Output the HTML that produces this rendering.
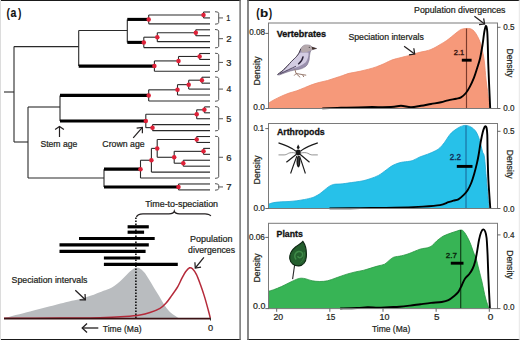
<!DOCTYPE html>
<html><head><meta charset="utf-8"><style>
html,body{margin:0;padding:0;background:#fff;width:520px;height:340px;overflow:hidden}
svg{display:block}
text{font-family:"Liberation Sans",sans-serif}
</style></head><body>
<svg width="520" height="340" viewBox="0 0 520 340">
<line x1="0" y1="0.5" x2="240.5" y2="0.5" stroke="#1a1a1a" stroke-width="1.2"/>
<line x1="0" y1="339.5" x2="240.5" y2="339.5" stroke="#1a1a1a" stroke-width="1.2"/>
<line x1="0.5" y1="0" x2="0.5" y2="340" stroke="#dcdcdc" stroke-width="1"/>
<line x1="240.1" y1="0" x2="240.1" y2="340" stroke="#6a6a6a" stroke-width="1.4"/>
<line x1="247.5" y1="0.5" x2="520" y2="0.5" stroke="#1a1a1a" stroke-width="1.2"/>
<line x1="247.5" y1="339.5" x2="520" y2="339.5" stroke="#1a1a1a" stroke-width="1.2"/>
<line x1="248" y1="0" x2="248" y2="340" stroke="#6a6a6a" stroke-width="1.6"/>
<line x1="519.3" y1="0" x2="519.3" y2="340" stroke="#e6e6e6" stroke-width="1"/>
<line x1="203.5" y1="12" x2="203.5" y2="17.93" stroke="#2a2a2a" stroke-width="1.1"/>
<line x1="203.5" y1="12" x2="210" y2="12" stroke="#2a2a2a" stroke-width="1.1"/>
<line x1="203.5" y1="17.93" x2="210" y2="17.93" stroke="#2a2a2a" stroke-width="1.1"/>
<line x1="148.7" y1="14.96" x2="148.7" y2="23.86" stroke="#2a2a2a" stroke-width="1.1"/>
<line x1="148.7" y1="14.96" x2="203.5" y2="14.96" stroke="#2a2a2a" stroke-width="1.1"/>
<line x1="148.7" y1="23.86" x2="210" y2="23.86" stroke="#2a2a2a" stroke-width="1.1"/>
<line x1="195.8" y1="29.79" x2="195.8" y2="35.72" stroke="#2a2a2a" stroke-width="1.1"/>
<line x1="195.8" y1="29.79" x2="210" y2="29.79" stroke="#2a2a2a" stroke-width="1.1"/>
<line x1="195.8" y1="35.72" x2="210" y2="35.72" stroke="#2a2a2a" stroke-width="1.1"/>
<line x1="157.3" y1="32.75" x2="157.3" y2="41.65" stroke="#2a2a2a" stroke-width="1.1"/>
<line x1="157.3" y1="32.75" x2="195.8" y2="32.75" stroke="#2a2a2a" stroke-width="1.1"/>
<line x1="157.3" y1="41.65" x2="210" y2="41.65" stroke="#2a2a2a" stroke-width="1.1"/>
<line x1="143.8" y1="37.2" x2="143.8" y2="47.58" stroke="#2a2a2a" stroke-width="1.1"/>
<line x1="143.8" y1="37.2" x2="157.3" y2="37.2" stroke="#2a2a2a" stroke-width="1.1"/>
<line x1="143.8" y1="47.58" x2="210" y2="47.58" stroke="#2a2a2a" stroke-width="1.1"/>
<line x1="127.3" y1="19.41" x2="127.3" y2="42.39" stroke="#2a2a2a" stroke-width="1.1"/>
<line x1="127.3" y1="19.41" x2="148.7" y2="19.41" stroke="#000" stroke-width="3.1"/>
<line x1="127.3" y1="42.39" x2="143.8" y2="42.39" stroke="#000" stroke-width="3.1"/>
<line x1="199.6" y1="53.51" x2="199.6" y2="59.44" stroke="#2a2a2a" stroke-width="1.1"/>
<line x1="199.6" y1="53.51" x2="210" y2="53.51" stroke="#2a2a2a" stroke-width="1.1"/>
<line x1="199.6" y1="59.44" x2="210" y2="59.44" stroke="#2a2a2a" stroke-width="1.1"/>
<line x1="178.5" y1="56.47" x2="178.5" y2="65.37" stroke="#2a2a2a" stroke-width="1.1"/>
<line x1="178.5" y1="56.47" x2="199.6" y2="56.47" stroke="#2a2a2a" stroke-width="1.1"/>
<line x1="178.5" y1="65.37" x2="210" y2="65.37" stroke="#2a2a2a" stroke-width="1.1"/>
<line x1="154.4" y1="60.92" x2="154.4" y2="71.3" stroke="#2a2a2a" stroke-width="1.1"/>
<line x1="154.4" y1="60.92" x2="178.5" y2="60.92" stroke="#2a2a2a" stroke-width="1.1"/>
<line x1="154.4" y1="71.3" x2="210" y2="71.3" stroke="#2a2a2a" stroke-width="1.1"/>
<line x1="78.7" y1="30.5" x2="78.7" y2="66.11" stroke="#2a2a2a" stroke-width="1.1"/>
<line x1="78.7" y1="30.5" x2="127.3" y2="30.5" stroke="#2a2a2a" stroke-width="1.1"/>
<line x1="78.7" y1="66.11" x2="154.4" y2="66.11" stroke="#000" stroke-width="3.1"/>
<line x1="201.9" y1="77.23" x2="201.9" y2="83.16" stroke="#2a2a2a" stroke-width="1.1"/>
<line x1="201.9" y1="77.23" x2="210" y2="77.23" stroke="#2a2a2a" stroke-width="1.1"/>
<line x1="201.9" y1="83.16" x2="210" y2="83.16" stroke="#2a2a2a" stroke-width="1.1"/>
<line x1="188.7" y1="80.19" x2="188.7" y2="89.09" stroke="#2a2a2a" stroke-width="1.1"/>
<line x1="188.7" y1="80.19" x2="201.9" y2="80.19" stroke="#2a2a2a" stroke-width="1.1"/>
<line x1="188.7" y1="89.09" x2="210" y2="89.09" stroke="#2a2a2a" stroke-width="1.1"/>
<line x1="177.5" y1="84.64" x2="177.5" y2="95.02" stroke="#2a2a2a" stroke-width="1.1"/>
<line x1="177.5" y1="84.64" x2="188.7" y2="84.64" stroke="#2a2a2a" stroke-width="1.1"/>
<line x1="177.5" y1="95.02" x2="210" y2="95.02" stroke="#2a2a2a" stroke-width="1.1"/>
<line x1="148.7" y1="89.83" x2="148.7" y2="100.95" stroke="#2a2a2a" stroke-width="1.1"/>
<line x1="148.7" y1="89.83" x2="177.5" y2="89.83" stroke="#2a2a2a" stroke-width="1.1"/>
<line x1="148.7" y1="100.95" x2="210" y2="100.95" stroke="#2a2a2a" stroke-width="1.1"/>
<line x1="204.4" y1="106.88" x2="204.4" y2="112.81" stroke="#2a2a2a" stroke-width="1.1"/>
<line x1="204.4" y1="106.88" x2="210" y2="106.88" stroke="#2a2a2a" stroke-width="1.1"/>
<line x1="204.4" y1="112.81" x2="210" y2="112.81" stroke="#2a2a2a" stroke-width="1.1"/>
<line x1="196.7" y1="109.84" x2="196.7" y2="118.74" stroke="#2a2a2a" stroke-width="1.1"/>
<line x1="196.7" y1="109.84" x2="204.4" y2="109.84" stroke="#2a2a2a" stroke-width="1.1"/>
<line x1="196.7" y1="118.74" x2="210" y2="118.74" stroke="#2a2a2a" stroke-width="1.1"/>
<line x1="152.5" y1="124.67" x2="152.5" y2="130.6" stroke="#2a2a2a" stroke-width="1.1"/>
<line x1="152.5" y1="124.67" x2="210" y2="124.67" stroke="#2a2a2a" stroke-width="1.1"/>
<line x1="152.5" y1="130.6" x2="210" y2="130.6" stroke="#2a2a2a" stroke-width="1.1"/>
<line x1="145.8" y1="114.29" x2="145.8" y2="127.63" stroke="#2a2a2a" stroke-width="1.1"/>
<line x1="145.8" y1="114.29" x2="196.7" y2="114.29" stroke="#2a2a2a" stroke-width="1.1"/>
<line x1="145.8" y1="127.63" x2="152.5" y2="127.63" stroke="#2a2a2a" stroke-width="1.1"/>
<line x1="60" y1="95.39" x2="60" y2="120.96" stroke="#2a2a2a" stroke-width="1.1"/>
<line x1="60" y1="95.39" x2="148.7" y2="95.39" stroke="#000" stroke-width="3.1"/>
<line x1="60" y1="120.96" x2="145.8" y2="120.96" stroke="#000" stroke-width="3.1"/>
<line x1="196.7" y1="136.53" x2="196.7" y2="142.46" stroke="#2a2a2a" stroke-width="1.1"/>
<line x1="196.7" y1="136.53" x2="210" y2="136.53" stroke="#2a2a2a" stroke-width="1.1"/>
<line x1="196.7" y1="142.46" x2="210" y2="142.46" stroke="#2a2a2a" stroke-width="1.1"/>
<line x1="203.5" y1="148.39" x2="203.5" y2="154.32" stroke="#2a2a2a" stroke-width="1.1"/>
<line x1="203.5" y1="148.39" x2="210" y2="148.39" stroke="#2a2a2a" stroke-width="1.1"/>
<line x1="203.5" y1="154.32" x2="210" y2="154.32" stroke="#2a2a2a" stroke-width="1.1"/>
<line x1="183.3" y1="160.25" x2="183.3" y2="166.18" stroke="#2a2a2a" stroke-width="1.1"/>
<line x1="183.3" y1="160.25" x2="210" y2="160.25" stroke="#2a2a2a" stroke-width="1.1"/>
<line x1="183.3" y1="166.18" x2="210" y2="166.18" stroke="#2a2a2a" stroke-width="1.1"/>
<line x1="174.2" y1="151.35" x2="174.2" y2="163.22" stroke="#2a2a2a" stroke-width="1.1"/>
<line x1="174.2" y1="151.35" x2="203.5" y2="151.35" stroke="#2a2a2a" stroke-width="1.1"/>
<line x1="174.2" y1="163.22" x2="183.3" y2="163.22" stroke="#2a2a2a" stroke-width="1.1"/>
<line x1="157.2" y1="139.5" x2="157.2" y2="157.28" stroke="#2a2a2a" stroke-width="1.1"/>
<line x1="157.2" y1="139.5" x2="196.7" y2="139.5" stroke="#2a2a2a" stroke-width="1.1"/>
<line x1="157.2" y1="157.28" x2="174.2" y2="157.28" stroke="#2a2a2a" stroke-width="1.1"/>
<line x1="151.4" y1="148.39" x2="151.4" y2="172.11" stroke="#2a2a2a" stroke-width="1.1"/>
<line x1="151.4" y1="148.39" x2="157.2" y2="148.39" stroke="#2a2a2a" stroke-width="1.1"/>
<line x1="151.4" y1="172.11" x2="210" y2="172.11" stroke="#2a2a2a" stroke-width="1.1"/>
<line x1="140.5" y1="160.25" x2="140.5" y2="178.04" stroke="#2a2a2a" stroke-width="1.1"/>
<line x1="140.5" y1="160.25" x2="151.4" y2="160.25" stroke="#2a2a2a" stroke-width="1.1"/>
<line x1="140.5" y1="178.04" x2="210" y2="178.04" stroke="#2a2a2a" stroke-width="1.1"/>
<line x1="178.5" y1="183.97" x2="178.5" y2="189.9" stroke="#2a2a2a" stroke-width="1.1"/>
<line x1="178.5" y1="183.97" x2="210" y2="183.97" stroke="#2a2a2a" stroke-width="1.1"/>
<line x1="178.5" y1="189.9" x2="210" y2="189.9" stroke="#2a2a2a" stroke-width="1.1"/>
<line x1="104" y1="169.14" x2="104" y2="186.94" stroke="#2a2a2a" stroke-width="1.1"/>
<line x1="104" y1="169.14" x2="140.5" y2="169.14" stroke="#000" stroke-width="3.1"/>
<line x1="104" y1="186.94" x2="178.5" y2="186.94" stroke="#000" stroke-width="3.1"/>
<line x1="28" y1="107" x2="28" y2="178.04" stroke="#2a2a2a" stroke-width="1.1"/>
<line x1="28" y1="107" x2="60" y2="107" stroke="#2a2a2a" stroke-width="1.1"/>
<line x1="28" y1="178.04" x2="104" y2="178.04" stroke="#2a2a2a" stroke-width="1.1"/>
<line x1="14" y1="46.6" x2="14" y2="142" stroke="#2a2a2a" stroke-width="1.1"/>
<line x1="14" y1="46.6" x2="78.7" y2="46.6" stroke="#2a2a2a" stroke-width="1.1"/>
<line x1="14" y1="142" x2="28" y2="142" stroke="#2a2a2a" stroke-width="1.1"/>
<line x1="4" y1="92" x2="14" y2="92" stroke="#2a2a2a" stroke-width="1.1"/>
<circle cx="203.5" cy="14.96" r="2.25" fill="#df2138"/>
<circle cx="148.7" cy="19.41" r="2.25" fill="#df2138"/>
<circle cx="195.8" cy="32.75" r="2.25" fill="#df2138"/>
<circle cx="157.3" cy="37.2" r="2.25" fill="#df2138"/>
<circle cx="143.8" cy="42.39" r="2.25" fill="#df2138"/>
<circle cx="199.6" cy="56.47" r="2.25" fill="#df2138"/>
<circle cx="178.5" cy="60.92" r="2.25" fill="#df2138"/>
<circle cx="154.4" cy="66.11" r="2.25" fill="#df2138"/>
<circle cx="201.9" cy="80.19" r="2.25" fill="#df2138"/>
<circle cx="188.7" cy="84.64" r="2.25" fill="#df2138"/>
<circle cx="177.5" cy="89.83" r="2.25" fill="#df2138"/>
<circle cx="148.7" cy="95.39" r="2.25" fill="#df2138"/>
<circle cx="204.4" cy="109.84" r="2.25" fill="#df2138"/>
<circle cx="196.7" cy="114.29" r="2.25" fill="#df2138"/>
<circle cx="152.5" cy="127.63" r="2.25" fill="#df2138"/>
<circle cx="145.8" cy="120.96" r="2.25" fill="#df2138"/>
<circle cx="196.7" cy="139.5" r="2.25" fill="#df2138"/>
<circle cx="203.5" cy="151.35" r="2.25" fill="#df2138"/>
<circle cx="183.3" cy="163.22" r="2.25" fill="#df2138"/>
<circle cx="174.2" cy="157.28" r="2.25" fill="#df2138"/>
<circle cx="157.2" cy="148.39" r="2.25" fill="#df2138"/>
<circle cx="151.4" cy="160.25" r="2.25" fill="#df2138"/>
<circle cx="140.5" cy="169.14" r="2.25" fill="#df2138"/>
<circle cx="178.5" cy="186.94" r="2.25" fill="#df2138"/>
<path d="M215,11.7 Q218.7,11.7 218.7,13.2 L218.7,22.66 Q218.7,24.16 215,24.16" fill="none" stroke="#555" stroke-width="1"/>
<line x1="218.7" y1="17.93" x2="223" y2="17.93" stroke="#555" stroke-width="1"/>
<text x="226.13" y="21.33" font-size="9.74" textLength="4.13" lengthAdjust="spacingAndGlyphs" fill="#231f20" stroke="#231f20" stroke-width="0.22">1</text>
<path d="M215,29.49 Q218.7,29.49 218.7,30.99 L218.7,46.38 Q218.7,47.88 215,47.88" fill="none" stroke="#555" stroke-width="1"/>
<line x1="218.7" y1="38.68" x2="223" y2="38.68" stroke="#555" stroke-width="1"/>
<text x="226.21" y="42.08" font-size="9.6" textLength="5.37" lengthAdjust="spacingAndGlyphs" fill="#231f20" stroke="#231f20" stroke-width="0.22">2</text>
<path d="M215,53.21 Q218.7,53.21 218.7,54.71 L218.7,70.1 Q218.7,71.6 215,71.6" fill="none" stroke="#555" stroke-width="1"/>
<line x1="218.7" y1="62.41" x2="223" y2="62.41" stroke="#555" stroke-width="1"/>
<text x="226.35" y="65.81" font-size="9.6" textLength="5.16" lengthAdjust="spacingAndGlyphs" fill="#231f20" stroke="#231f20" stroke-width="0.22">3</text>
<path d="M215,76.93 Q218.7,76.93 218.7,78.43 L218.7,99.75 Q218.7,101.25 215,101.25" fill="none" stroke="#555" stroke-width="1"/>
<line x1="218.7" y1="89.09" x2="223" y2="89.09" stroke="#555" stroke-width="1"/>
<text x="226.5" y="92.49" font-size="9.74" textLength="4.86" lengthAdjust="spacingAndGlyphs" fill="#231f20" stroke="#231f20" stroke-width="0.22">4</text>
<path d="M215,106.58 Q218.7,106.58 218.7,108.08 L218.7,129.4 Q218.7,130.9 215,130.9" fill="none" stroke="#555" stroke-width="1"/>
<line x1="218.7" y1="118.74" x2="223" y2="118.74" stroke="#555" stroke-width="1"/>
<text x="226.33" y="122.14" font-size="9.74" textLength="5.16" lengthAdjust="spacingAndGlyphs" fill="#231f20" stroke="#231f20" stroke-width="0.22">5</text>
<path d="M215,136.23 Q218.7,136.23 218.7,137.73 L218.7,176.84 Q218.7,178.34 215,178.34" fill="none" stroke="#555" stroke-width="1"/>
<line x1="218.7" y1="157.28" x2="223" y2="157.28" stroke="#555" stroke-width="1"/>
<text x="226.22" y="160.69" font-size="9.6" textLength="5.3" lengthAdjust="spacingAndGlyphs" fill="#231f20" stroke="#231f20" stroke-width="0.22">6</text>
<path d="M215,183.67 Q218.7,183.67 218.7,185.17 L218.7,188.7 Q218.7,190.2 215,190.2" fill="none" stroke="#555" stroke-width="1"/>
<line x1="218.7" y1="186.94" x2="223" y2="186.94" stroke="#555" stroke-width="1"/>
<text x="226.2" y="190.34" font-size="9.74" textLength="5.38" lengthAdjust="spacingAndGlyphs" fill="#231f20" stroke="#231f20" stroke-width="0.22">7</text>
<path d="M4,318 C8.33,316.9 22.33,313.35 30,311.4 C37.67,309.45 43.33,308 50,306.3 C56.67,304.6 64.9,302.42 70,301.2 C75.1,299.98 77.07,299.93 80.6,299 C84.13,298.07 87.75,296.82 91.2,295.6 C94.65,294.38 98.73,292.67 101.3,291.7 C103.87,290.73 104.83,290.52 106.6,289.8 C108.37,289.08 110.13,288.42 111.9,287.4 C113.67,286.38 115.43,285.1 117.2,283.7 C118.97,282.3 120.92,280.5 122.5,279 C124.08,277.5 125.47,275.95 126.7,274.7 C127.93,273.45 128.83,272.47 129.9,271.5 C130.97,270.53 132.03,269.52 133.1,268.9 C134.17,268.28 135.23,267.92 136.3,267.8 C137.37,267.68 138.18,267.47 139.5,268.2 C140.82,268.93 142.58,270.28 144.2,272.2 C145.82,274.12 147.55,277.08 149.2,279.7 C150.85,282.32 152.45,285.17 154.1,287.9 C155.75,290.63 157.45,293.35 159.1,296.1 C160.75,298.85 162.35,301.92 164,304.4 C165.65,306.88 167.35,309.22 169,311 C170.65,312.78 172.4,313.97 173.9,315.1 C175.4,316.23 177.15,317.27 178,317.8 C178.85,318.33 178.83,318.22 179,318.3 Z" fill="#b9bcbf" stroke="none" stroke-width="1"/>
<line x1="127.6" y1="226.8" x2="148.8" y2="226.8" stroke="#000" stroke-width="3.2"/>
<line x1="127.6" y1="232.2" x2="144.1" y2="232.2" stroke="#000" stroke-width="3.2"/>
<line x1="79" y1="238.5" x2="154.7" y2="238.5" stroke="#000" stroke-width="3.2"/>
<line x1="59.5" y1="244.9" x2="148.8" y2="244.9" stroke="#000" stroke-width="3.2"/>
<line x1="59.5" y1="251.4" x2="145.6" y2="251.4" stroke="#000" stroke-width="3.2"/>
<line x1="103.9" y1="258" x2="140.2" y2="258" stroke="#000" stroke-width="3.2"/>
<line x1="103.9" y1="264.4" x2="177.8" y2="264.4" stroke="#000" stroke-width="3.2"/>
<line x1="135.9" y1="217.5" x2="135.9" y2="318" stroke="#000" stroke-width="1.5" stroke-dasharray="1.5 1.5"/>
<path d="M136.5,217 Q137.5,213.8 143,213.8 L169,213.8 Q173.5,213.8 174.3,211.2 Q175.1,213.8 179.5,213.8 L205,213.8 Q209.5,213.8 210.8,216" fill="none" stroke="#231f20" stroke-width="1.3"/>
<path d="M4,318.2 C13.33,318.18 44,318.18 60,318.1 C76,318.02 89.17,317.97 100,317.7 C110.83,317.43 118.33,316.95 125,316.5 C131.67,316.05 135.83,315.67 140,315 C144.17,314.33 146.67,313.62 150,312.5 C153.33,311.38 157.35,309.83 160,308.3 C162.65,306.77 163.93,305.45 165.9,303.3 C167.87,301.15 169.82,298.18 171.8,295.4 C173.78,292.62 176.15,289.38 177.8,286.6 C179.45,283.82 180.4,281.17 181.7,278.7 C183,276.23 184.28,273.62 185.6,271.8 C186.92,269.98 188.45,268.3 189.6,267.8 C190.75,267.3 191.35,267.65 192.5,268.8 C193.65,269.95 195.18,272.07 196.5,274.7 C197.82,277.33 199.08,280.98 200.4,284.6 C201.72,288.22 203.08,292.13 204.4,296.4 C205.72,300.67 207.32,306.6 208.3,310.2 C209.28,313.8 209.97,316.7 210.3,318" fill="none" stroke="#b52a3a" stroke-width="1.5"/>
<line x1="4" y1="318.6" x2="210.8" y2="318.6" stroke="#3a1214" stroke-width="1.7"/>
<line x1="210.5" y1="318" x2="210.5" y2="320.5" stroke="#333" stroke-width="1"/>
<text x="6.49" y="17.27" font-size="12.66" textLength="3.42" lengthAdjust="spacingAndGlyphs" fill="#111" font-weight="bold">(</text>
<text x="10.49" y="16.6" font-size="12.45" textLength="5.84" lengthAdjust="spacingAndGlyphs" fill="#111" font-weight="bold" stroke="#111" stroke-width="0.15">a</text>
<text x="17.89" y="17.27" font-size="12.66" textLength="3.42" lengthAdjust="spacingAndGlyphs" fill="#111" font-weight="bold">)</text>
<text x="40.41" y="146.7" font-size="8.88" textLength="36.87" lengthAdjust="spacingAndGlyphs" fill="#231f20" stroke="#231f20" stroke-width="0.22">Stem age</text>
<text x="102.36" y="146.8" font-size="8.59" textLength="42.23" lengthAdjust="spacingAndGlyphs" fill="#231f20" stroke="#231f20" stroke-width="0.22">Crown age</text>
<text x="145.2" y="206.9" font-size="8.42" textLength="72.87" lengthAdjust="spacingAndGlyphs" fill="#231f20" stroke="#231f20" stroke-width="0.22">Time-to-speciation</text>
<text x="190.06" y="242.1" font-size="8.56" textLength="42.52" lengthAdjust="spacingAndGlyphs" fill="#231f20" stroke="#231f20" stroke-width="0.22">Population</text>
<text x="188.13" y="252.7" font-size="8.56" textLength="46.88" lengthAdjust="spacingAndGlyphs" fill="#231f20" stroke="#231f20" stroke-width="0.22">divergences</text>
<text x="11.6" y="282.9" font-size="8.83" textLength="75.91" lengthAdjust="spacingAndGlyphs" fill="#231f20" stroke="#231f20" stroke-width="0.22">Speciation intervals</text>
<text x="102.81" y="331.5" font-size="8.97" textLength="38.72" lengthAdjust="spacingAndGlyphs" fill="#231f20" stroke="#231f20" stroke-width="0.22">Time (Ma)</text>
<text x="207.94" y="331.2" font-size="9.17" textLength="5.12" lengthAdjust="spacingAndGlyphs" fill="#231f20" stroke="#231f20" stroke-width="0.22">0</text>
<line x1="59.5" y1="137" x2="59.5" y2="126.4" stroke="#231f20" stroke-width="1.2"/>
<path d="M63.89,129.54 L59.5,126.4 L55.11,129.54" fill="none" stroke="#231f20" stroke-width="1.2" stroke-linejoin="miter" stroke-linecap="butt"/>
<line x1="133.2" y1="137.8" x2="142.4" y2="127.4" stroke="#231f20" stroke-width="1.2"/>
<path d="M142.38,133.2 L142.4,127.4 L136.65,128.13" fill="none" stroke="#231f20" stroke-width="1.2" stroke-linejoin="miter" stroke-linecap="butt"/>
<line x1="98.3" y1="328" x2="82.2" y2="328" stroke="#231f20" stroke-width="1.3"/>
<path d="M87.03,323.5 L82.2,328 L87.03,332.5" fill="none" stroke="#231f20" stroke-width="1.3" stroke-linejoin="miter" stroke-linecap="butt"/>
<line x1="75.3" y1="290.3" x2="85.4" y2="299.8" stroke="#231f20" stroke-width="1.25"/>
<path d="M79.6,299.77 L85.4,299.8 L85.02,294.01" fill="none" stroke="#231f20" stroke-width="1.25" stroke-linejoin="miter" stroke-linecap="butt"/>
<line x1="203.9" y1="257.4" x2="195.3" y2="268" stroke="#231f20" stroke-width="1.25"/>
<path d="M194.9,262.21 L195.3,268 L201.04,267.2" fill="none" stroke="#231f20" stroke-width="1.25" stroke-linejoin="miter" stroke-linecap="butt"/>
<text x="256.29" y="17.12" font-size="12.44" textLength="3.42" lengthAdjust="spacingAndGlyphs" fill="#111" font-weight="bold">(</text>
<text x="259.91" y="16.6" font-size="11.32" textLength="8.24" lengthAdjust="spacingAndGlyphs" fill="#111" font-weight="bold" stroke="#111" stroke-width="0.15">b</text>
<text x="268.79" y="17.12" font-size="12.44" textLength="3.42" lengthAdjust="spacingAndGlyphs" fill="#111" font-weight="bold">)</text>
<path d="M268.5,103.1 C269.37,102.58 271.55,101.15 273.7,100 C275.85,98.85 278.83,97.35 281.4,96.2 C283.97,95.05 286.53,94 289.1,93.1 C291.67,92.2 294.23,91.7 296.8,90.8 C299.37,89.9 301.93,88.73 304.5,87.7 C307.07,86.67 309.65,85.5 312.2,84.6 C314.75,83.7 317.25,82.98 319.8,82.3 C322.35,81.62 324.93,81.22 327.5,80.5 C330.07,79.78 332.63,78.83 335.2,78 C337.77,77.17 340.77,76.23 342.9,75.5 C345.03,74.77 346.3,74.08 348,73.6 C349.7,73.12 350.97,73.02 353.1,72.6 C355.23,72.18 358.23,71.67 360.8,71.1 C363.37,70.53 365.93,69.9 368.5,69.2 C371.07,68.5 373.65,67.8 376.2,66.9 C378.75,66 381.75,64.7 383.8,63.8 C385.85,62.9 386.95,62.2 388.5,61.5 C390.05,60.8 391.18,60.22 393.1,59.6 C395.02,58.98 398,58.32 400,57.8 C402,57.28 403.38,56.93 405.1,56.5 C406.82,56.07 408.58,55.7 410.3,55.2 C412.02,54.7 413.68,54.02 415.4,53.5 C417.12,52.98 418.88,52.5 420.6,52.1 C422.32,51.7 423.98,51.53 425.7,51.1 C427.42,50.67 429.18,50.18 430.9,49.5 C432.62,48.82 434.28,47.93 436,47 C437.72,46.07 439.48,44.93 441.2,43.9 C442.92,42.87 444.53,42.03 446.3,40.8 C448.07,39.57 449.92,38 451.8,36.5 C453.68,35 456.03,32.98 457.6,31.8 C459.17,30.62 459.82,29.95 461.2,29.4 C462.58,28.85 464.33,28.6 465.9,28.5 C467.47,28.4 469.23,28.35 470.6,28.8 C471.97,29.25 472.93,29.92 474.1,31.2 C475.27,32.48 476.52,34.45 477.6,36.5 C478.68,38.55 479.72,40.77 480.6,43.5 C481.48,46.23 482.27,49.82 482.9,52.9 C483.53,55.98 483.87,57.48 484.4,62 C484.93,66.52 485.5,74.5 486.1,80 C486.7,85.5 487.43,90.25 488,95 C488.57,99.75 489.25,106.25 489.5,108.5 L489.5,108.5 L268.5,108.5 Z" fill="#f6997a" stroke="none" stroke-width="1"/>
<path d="M268.5,103.1 C269.37,102.58 271.55,101.15 273.7,100 C275.85,98.85 278.83,97.35 281.4,96.2 C283.97,95.05 286.53,94 289.1,93.1 C291.67,92.2 294.23,91.7 296.8,90.8 C299.37,89.9 301.93,88.73 304.5,87.7 C307.07,86.67 309.65,85.5 312.2,84.6 C314.75,83.7 317.25,82.98 319.8,82.3 C322.35,81.62 324.93,81.22 327.5,80.5 C330.07,79.78 332.63,78.83 335.2,78 C337.77,77.17 340.77,76.23 342.9,75.5 C345.03,74.77 346.3,74.08 348,73.6 C349.7,73.12 350.97,73.02 353.1,72.6 C355.23,72.18 358.23,71.67 360.8,71.1 C363.37,70.53 365.93,69.9 368.5,69.2 C371.07,68.5 373.65,67.8 376.2,66.9 C378.75,66 381.75,64.7 383.8,63.8 C385.85,62.9 386.95,62.2 388.5,61.5 C390.05,60.8 391.18,60.22 393.1,59.6 C395.02,58.98 398,58.32 400,57.8 C402,57.28 403.38,56.93 405.1,56.5 C406.82,56.07 408.58,55.7 410.3,55.2 C412.02,54.7 413.68,54.02 415.4,53.5 C417.12,52.98 418.88,52.5 420.6,52.1 C422.32,51.7 423.98,51.53 425.7,51.1 C427.42,50.67 429.18,50.18 430.9,49.5 C432.62,48.82 434.28,47.93 436,47 C437.72,46.07 439.48,44.93 441.2,43.9 C442.92,42.87 444.53,42.03 446.3,40.8 C448.07,39.57 449.92,38 451.8,36.5 C453.68,35 456.03,32.98 457.6,31.8 C459.17,30.62 459.82,29.95 461.2,29.4 C462.58,28.85 464.33,28.6 465.9,28.5 C467.47,28.4 469.23,28.35 470.6,28.8 C471.97,29.25 472.93,29.92 474.1,31.2 C475.27,32.48 476.52,34.45 477.6,36.5 C478.68,38.55 479.72,40.77 480.6,43.5 C481.48,46.23 482.27,49.82 482.9,52.9 C483.53,55.98 483.87,57.48 484.4,62 C484.93,66.52 485.5,74.5 486.1,80 C486.7,85.5 487.43,90.25 488,95 C488.57,99.75 489.25,106.25 489.5,108.5" fill="none" stroke="#ec8a6c" stroke-width="0.8"/>
<line x1="466.5" y1="28.54" x2="466.5" y2="108.5" stroke="#7a3b2c" stroke-width="1.15"/>
<text x="453.72" y="54.7" font-size="7.59" textLength="10.44" lengthAdjust="spacingAndGlyphs" fill="#3d1a12" stroke="#3d1a12" stroke-width="0.4">2.1</text>
<line x1="461.8" y1="60.2" x2="471.6" y2="60.2" stroke="#000" stroke-width="2.9"/>
<path d="M322.3,108.4 C325.42,108.3 333.72,108.02 341,107.8 C348.28,107.58 357.67,107.23 366,107.1 C374.33,106.97 385.17,107.22 391,107 C396.83,106.78 397.67,105.77 401,105.8 C404.33,105.83 407.67,107.2 411,107.2 C414.33,107.2 417.67,106.33 421,105.8 C424.33,105.27 427.67,104.58 431,104 C434.33,103.42 438.15,102.92 441,102.3 C443.85,101.68 445.57,100.9 448.1,100.3 C450.63,99.7 454.05,99.18 456.2,98.7 C458.35,98.22 459.38,98.35 461,97.4 C462.62,96.45 464.42,94.8 465.9,93 C467.38,91.2 468.55,89.15 469.9,86.6 C471.25,84.05 472.78,80.8 474,77.7 C475.22,74.6 476.18,71.25 477.2,68 C478.22,64.75 479.22,62.03 480.1,58.2 C480.98,54.37 481.8,49.37 482.5,45 C483.2,40.63 483.73,35.17 484.3,32 C484.87,28.83 485.42,26.17 485.9,26 C486.38,25.83 486.88,27.83 487.2,31 C487.52,34.17 487.63,39.83 487.8,45 C487.97,50.17 488,55.83 488.2,62 C488.4,68.17 488.67,74.25 489,82 C489.33,89.75 490,104.08 490.2,108.5" fill="none" stroke="#000" stroke-width="1.9" stroke-linejoin="round"/>
<rect x="268.5" y="23" width="229" height="85.5" fill="none" stroke="#7a7a7a" stroke-width="1"/>
<line x1="265.3" y1="33.4" x2="268.5" y2="33.4" stroke="#555" stroke-width="0.9"/>
<text x="249.28" y="35" font-size="9.38" textLength="15.87" lengthAdjust="spacingAndGlyphs" fill="#231f20" stroke="#231f20" stroke-width="0.22">0.08</text>
<line x1="265.3" y1="108.5" x2="268.5" y2="108.5" stroke="#555" stroke-width="0.9"/>
<text x="253.28" y="110.4" font-size="9.38" textLength="11.55" lengthAdjust="spacingAndGlyphs" fill="#231f20" stroke="#231f20" stroke-width="0.22">0.0</text>
<line x1="497.5" y1="27.3" x2="500.5" y2="27.3" stroke="#555" stroke-width="0.9"/>
<text x="503.28" y="30.2" font-size="9.38" textLength="11.26" lengthAdjust="spacingAndGlyphs" fill="#231f20" stroke="#231f20" stroke-width="0.22">0.5</text>
<line x1="497.5" y1="108.5" x2="500.5" y2="108.5" stroke="#555" stroke-width="0.9"/>
<text x="503.28" y="110.9" font-size="9.38" textLength="11.23" lengthAdjust="spacingAndGlyphs" fill="#231f20" stroke="#231f20" stroke-width="0.22">0.0</text>
<text transform="translate(257.3 70.5) rotate(-90)" x="-14.92" y="3" font-size="8.28" textLength="29.13" lengthAdjust="spacingAndGlyphs" fill="#231f20" stroke="#231f20" stroke-width="0.22">Density</text>
<text transform="translate(509.5 63.2) rotate(90)" x="-14.81" y="3" font-size="8.28" textLength="28.93" lengthAdjust="spacingAndGlyphs" fill="#231f20" stroke="#231f20" stroke-width="0.22">Density</text>
<text x="276.74" y="36.95" font-size="8.56" textLength="49.23" lengthAdjust="spacingAndGlyphs" fill="#111" font-weight="bold" stroke="#111" stroke-width="0.3">Vertebrates</text>
<path d="M268.5,204.2 C269.37,203.93 271.55,203 273.7,202.6 C275.85,202.2 278.83,201.98 281.4,201.8 C283.97,201.62 286.53,201.67 289.1,201.5 C291.67,201.33 294.23,201.13 296.8,200.8 C299.37,200.47 301.93,200.02 304.5,199.5 C307.07,198.98 310.28,198.28 312.2,197.7 C314.12,197.12 314.73,196.65 316,196 C317.27,195.35 318.38,194.8 319.8,193.8 C321.22,192.8 322.95,191.23 324.5,190 C326.05,188.77 327.57,187.33 329.1,186.4 C330.63,185.47 332.22,184.78 333.7,184.4 C335.18,184.02 336.47,184.2 338,184.1 C339.53,184 341.28,183.97 342.9,183.8 C344.52,183.63 345.62,183.4 347.7,183.1 C349.78,182.8 352.83,182.38 355.4,182 C357.97,181.62 360.53,181.38 363.1,180.8 C365.67,180.22 368.23,179.4 370.8,178.5 C373.37,177.6 375.93,176.82 378.5,175.4 C381.07,173.98 384.15,171.47 386.2,170 C388.25,168.53 389.27,167.57 390.8,166.6 C392.33,165.63 393.62,164.92 395.4,164.2 C397.18,163.48 399.2,162.78 401.5,162.3 C403.8,161.82 407.15,161.68 409.2,161.3 C411.25,160.92 412,160.73 413.8,160 C415.6,159.27 417.68,157.87 420,156.9 C422.32,155.93 425.13,155.22 427.7,154.2 C430.27,153.18 433.35,151.88 435.4,150.8 C437.45,149.72 438.47,149.12 440,147.7 C441.53,146.28 443.07,144.35 444.6,142.3 C446.13,140.25 447.67,137.32 449.2,135.4 C450.73,133.48 452,132.22 453.8,130.8 C455.6,129.38 458.07,127.8 460,126.9 C461.93,126 463.6,125.4 465.4,125.4 C467.2,125.4 469.13,126 470.8,126.9 C472.47,127.8 474.12,129.13 475.4,130.8 C476.68,132.47 477.6,134.6 478.5,136.9 C479.4,139.2 480.12,142.08 480.8,144.6 C481.48,147.12 482,149.93 482.6,152 C483.2,154.07 483.75,152.33 484.4,157 C485.05,161.67 485.73,171.42 486.5,180 C487.27,188.58 488.58,203.75 489,208.5 L489,208.5 L268.5,208.5 Z" fill="#27c1e9" stroke="none" stroke-width="1"/>
<path d="M268.5,204.2 C269.37,203.93 271.55,203 273.7,202.6 C275.85,202.2 278.83,201.98 281.4,201.8 C283.97,201.62 286.53,201.67 289.1,201.5 C291.67,201.33 294.23,201.13 296.8,200.8 C299.37,200.47 301.93,200.02 304.5,199.5 C307.07,198.98 310.28,198.28 312.2,197.7 C314.12,197.12 314.73,196.65 316,196 C317.27,195.35 318.38,194.8 319.8,193.8 C321.22,192.8 322.95,191.23 324.5,190 C326.05,188.77 327.57,187.33 329.1,186.4 C330.63,185.47 332.22,184.78 333.7,184.4 C335.18,184.02 336.47,184.2 338,184.1 C339.53,184 341.28,183.97 342.9,183.8 C344.52,183.63 345.62,183.4 347.7,183.1 C349.78,182.8 352.83,182.38 355.4,182 C357.97,181.62 360.53,181.38 363.1,180.8 C365.67,180.22 368.23,179.4 370.8,178.5 C373.37,177.6 375.93,176.82 378.5,175.4 C381.07,173.98 384.15,171.47 386.2,170 C388.25,168.53 389.27,167.57 390.8,166.6 C392.33,165.63 393.62,164.92 395.4,164.2 C397.18,163.48 399.2,162.78 401.5,162.3 C403.8,161.82 407.15,161.68 409.2,161.3 C411.25,160.92 412,160.73 413.8,160 C415.6,159.27 417.68,157.87 420,156.9 C422.32,155.93 425.13,155.22 427.7,154.2 C430.27,153.18 433.35,151.88 435.4,150.8 C437.45,149.72 438.47,149.12 440,147.7 C441.53,146.28 443.07,144.35 444.6,142.3 C446.13,140.25 447.67,137.32 449.2,135.4 C450.73,133.48 452,132.22 453.8,130.8 C455.6,129.38 458.07,127.8 460,126.9 C461.93,126 463.6,125.4 465.4,125.4 C467.2,125.4 469.13,126 470.8,126.9 C472.47,127.8 474.12,129.13 475.4,130.8 C476.68,132.47 477.6,134.6 478.5,136.9 C479.4,139.2 480.12,142.08 480.8,144.6 C481.48,147.12 482,149.93 482.6,152 C483.2,154.07 483.75,152.33 484.4,157 C485.05,161.67 485.73,171.42 486.5,180 C487.27,188.58 488.58,203.75 489,208.5" fill="none" stroke="#1eaad6" stroke-width="0.8"/>
<line x1="466" y1="125.57" x2="466" y2="208.5" stroke="#1a6fa0" stroke-width="1.15"/>
<text x="449.8" y="160" font-size="8.31" textLength="11" lengthAdjust="spacingAndGlyphs" fill="#12305a" stroke="#12305a" stroke-width="0.4">2.2</text>
<line x1="456.8" y1="166.4" x2="472.5" y2="166.4" stroke="#000" stroke-width="2.9"/>
<path d="M329.5,208.4 C334.58,208.35 349.08,208.2 360,208.1 C370.92,208 384.5,208.05 395,207.8 C405.5,207.55 415.5,207.05 423,206.6 C430.5,206.15 435.77,205.83 440,205.1 C444.23,204.37 446.17,202.95 448.4,202.2 C450.63,201.45 451.73,201.08 453.4,200.6 C455.07,200.12 456.72,200.2 458.4,199.3 C460.08,198.4 461.97,196.72 463.5,195.2 C465.03,193.68 466.35,192.15 467.6,190.2 C468.85,188.25 469.88,186.3 471,183.5 C472.12,180.7 473.32,176.75 474.3,173.4 C475.28,170.05 476.18,166.47 476.9,163.4 C477.62,160.33 477.97,158.57 478.6,155 C479.23,151.43 480,145.83 480.7,142 C481.4,138.17 482.15,134.5 482.8,132 C483.45,129.5 484.13,127.95 484.6,127 C485.07,126.05 485.27,126.13 485.6,126.3 C485.93,126.47 486.32,126.55 486.6,128 C486.88,129.45 487.13,130.5 487.3,135 C487.47,139.5 487.42,147.5 487.6,155 C487.78,162.5 487.95,171.08 488.4,180 C488.85,188.92 489.98,203.75 490.3,208.5" fill="none" stroke="#000" stroke-width="1.9" stroke-linejoin="round"/>
<rect x="268.5" y="123.5" width="229" height="85" fill="none" stroke="#7a7a7a" stroke-width="1"/>
<line x1="265.3" y1="128.6" x2="268.5" y2="128.6" stroke="#555" stroke-width="0.9"/>
<text x="253.4" y="130.9" font-size="9.38" textLength="10.57" lengthAdjust="spacingAndGlyphs" fill="#231f20" stroke="#231f20" stroke-width="0.22">0.1</text>
<line x1="265.3" y1="208.5" x2="268.5" y2="208.5" stroke="#555" stroke-width="0.9"/>
<text x="253.38" y="211.4" font-size="9.38" textLength="11.55" lengthAdjust="spacingAndGlyphs" fill="#231f20" stroke="#231f20" stroke-width="0.22">0.0</text>
<line x1="497.5" y1="131.3" x2="500.5" y2="131.3" stroke="#555" stroke-width="0.9"/>
<text x="503.28" y="133.9" font-size="9.38" textLength="11.26" lengthAdjust="spacingAndGlyphs" fill="#231f20" stroke="#231f20" stroke-width="0.22">0.5</text>
<line x1="497.5" y1="208.5" x2="500.5" y2="208.5" stroke="#555" stroke-width="0.9"/>
<text x="503.28" y="211.6" font-size="9.38" textLength="11.23" lengthAdjust="spacingAndGlyphs" fill="#231f20" stroke="#231f20" stroke-width="0.22">0.0</text>
<text transform="translate(257.3 169.5) rotate(-90)" x="-14.92" y="3" font-size="8.28" textLength="29.13" lengthAdjust="spacingAndGlyphs" fill="#231f20" stroke="#231f20" stroke-width="0.22">Density</text>
<text transform="translate(509.5 164.5) rotate(90)" x="-14.81" y="3" font-size="8.28" textLength="28.93" lengthAdjust="spacingAndGlyphs" fill="#231f20" stroke="#231f20" stroke-width="0.22">Density</text>
<text x="276.88" y="134.7" font-size="8.97" textLength="47.78" lengthAdjust="spacingAndGlyphs" fill="#111" font-weight="bold" stroke="#111" stroke-width="0.3">Arthropods</text>
<path d="M268.5,291.2 C269.37,290.95 271.55,290.47 273.7,289.7 C275.85,288.93 278.83,287.75 281.4,286.6 C283.97,285.45 286.53,284.03 289.1,282.8 C291.67,281.57 294.75,279.97 296.8,279.2 C298.85,278.43 299.87,278.25 301.4,278.2 C302.93,278.15 304.2,278.47 306,278.9 C307.8,279.33 309.9,280.37 312.2,280.8 C314.5,281.23 317.25,281.5 319.8,281.5 C322.35,281.5 324.93,281.35 327.5,280.8 C330.07,280.25 333.12,278.92 335.2,278.2 C337.28,277.48 337.92,277.22 340,276.5 C342.08,275.78 345.13,274.67 347.7,273.9 C350.27,273.13 352.83,272.48 355.4,271.9 C357.97,271.32 360.53,271.03 363.1,270.4 C365.67,269.77 368.23,268.87 370.8,268.1 C373.37,267.33 376.2,266.45 378.5,265.8 C380.8,265.15 382.82,265.1 384.6,264.2 C386.38,263.3 387.67,261.57 389.2,260.4 C390.73,259.23 391.75,257.97 393.8,257.2 C395.85,256.43 398.93,256.42 401.5,255.8 C404.07,255.18 406.12,254.6 409.2,253.5 C412.28,252.4 416.92,250.17 420,249.2 C423.08,248.23 425.65,248.33 427.7,247.7 C429.75,247.07 430.77,246.55 432.3,245.4 C433.83,244.25 435.1,242.33 436.9,240.8 C438.7,239.27 440.78,237.48 443.1,236.2 C445.42,234.92 448.5,233.95 450.8,233.1 C453.1,232.25 455.23,231.62 456.9,231.1 C458.57,230.58 459.65,229.93 460.8,230 C461.95,230.07 462.65,230.22 463.8,231.5 C464.95,232.78 466.53,235.52 467.7,237.7 C468.87,239.88 469.78,242.05 470.8,244.6 C471.82,247.15 472.93,250.77 473.8,253 C474.67,255.23 475.13,255.17 476,258 C476.87,260.83 478,266 479,270 C480,274 480.92,277.33 482,282 C483.08,286.67 484.33,293.57 485.5,298 C486.67,302.43 488.42,306.83 489,308.6 L489,308.6 L268.5,308.6 Z" fill="#37b455" stroke="none" stroke-width="1"/>
<path d="M268.5,291.2 C269.37,290.95 271.55,290.47 273.7,289.7 C275.85,288.93 278.83,287.75 281.4,286.6 C283.97,285.45 286.53,284.03 289.1,282.8 C291.67,281.57 294.75,279.97 296.8,279.2 C298.85,278.43 299.87,278.25 301.4,278.2 C302.93,278.15 304.2,278.47 306,278.9 C307.8,279.33 309.9,280.37 312.2,280.8 C314.5,281.23 317.25,281.5 319.8,281.5 C322.35,281.5 324.93,281.35 327.5,280.8 C330.07,280.25 333.12,278.92 335.2,278.2 C337.28,277.48 337.92,277.22 340,276.5 C342.08,275.78 345.13,274.67 347.7,273.9 C350.27,273.13 352.83,272.48 355.4,271.9 C357.97,271.32 360.53,271.03 363.1,270.4 C365.67,269.77 368.23,268.87 370.8,268.1 C373.37,267.33 376.2,266.45 378.5,265.8 C380.8,265.15 382.82,265.1 384.6,264.2 C386.38,263.3 387.67,261.57 389.2,260.4 C390.73,259.23 391.75,257.97 393.8,257.2 C395.85,256.43 398.93,256.42 401.5,255.8 C404.07,255.18 406.12,254.6 409.2,253.5 C412.28,252.4 416.92,250.17 420,249.2 C423.08,248.23 425.65,248.33 427.7,247.7 C429.75,247.07 430.77,246.55 432.3,245.4 C433.83,244.25 435.1,242.33 436.9,240.8 C438.7,239.27 440.78,237.48 443.1,236.2 C445.42,234.92 448.5,233.95 450.8,233.1 C453.1,232.25 455.23,231.62 456.9,231.1 C458.57,230.58 459.65,229.93 460.8,230 C461.95,230.07 462.65,230.22 463.8,231.5 C464.95,232.78 466.53,235.52 467.7,237.7 C468.87,239.88 469.78,242.05 470.8,244.6 C471.82,247.15 472.93,250.77 473.8,253 C474.67,255.23 475.13,255.17 476,258 C476.87,260.83 478,266 479,270 C480,274 480.92,277.33 482,282 C483.08,286.67 484.33,293.57 485.5,298 C486.67,302.43 488.42,306.83 489,308.6" fill="none" stroke="#269440" stroke-width="0.8"/>
<line x1="460.7" y1="230.03" x2="460.7" y2="308.6" stroke="#0f3d18" stroke-width="1.15"/>
<text x="445.8" y="257.7" font-size="7.73" textLength="11" lengthAdjust="spacingAndGlyphs" fill="#0b2a10" stroke="#0b2a10" stroke-width="0.4">2.7</text>
<line x1="450.8" y1="263.2" x2="463.5" y2="263.2" stroke="#000" stroke-width="2.9"/>
<path d="M340.2,308.5 C343.02,308.42 352.52,308.2 357.1,308 C361.68,307.8 364.17,307.35 367.7,307.3 C371.23,307.25 374.77,307.73 378.3,307.7 C381.83,307.67 385.38,307.27 388.9,307.1 C392.42,306.93 395.88,306.95 399.4,306.7 C402.92,306.45 406.47,306.02 410,305.6 C413.53,305.18 417.08,304.65 420.6,304.2 C424.12,303.75 427.58,303.27 431.1,302.9 C434.62,302.53 438.82,302.45 441.7,302 C444.58,301.55 446.32,301.2 448.4,300.2 C450.48,299.2 452.53,297.38 454.2,296 C455.87,294.62 457.13,293.7 458.4,291.9 C459.67,290.1 460.68,287.43 461.8,285.2 C462.92,282.97 463.85,280.37 465.1,278.5 C466.35,276.63 468.03,275.67 469.3,274 C470.57,272.33 471.72,270.63 472.7,268.5 C473.68,266.37 474.48,263.95 475.2,261.2 C475.92,258.45 476.37,255.53 477,252 C477.63,248.47 478.33,243.25 479,240 C479.67,236.75 480.3,234.27 481,232.5 C481.7,230.73 482.5,229.57 483.2,229.4 C483.9,229.23 484.63,230.07 485.2,231.5 C485.77,232.93 486.2,234.08 486.6,238 C487,241.92 487.28,248 487.6,255 C487.92,262 488.12,271.07 488.5,280 C488.88,288.93 489.67,303.83 489.9,308.6" fill="none" stroke="#000" stroke-width="1.9" stroke-linejoin="round"/>
<rect x="268.5" y="223.3" width="229" height="85.3" fill="none" stroke="#7a7a7a" stroke-width="1"/>
<line x1="265.3" y1="237.4" x2="268.5" y2="237.4" stroke="#555" stroke-width="0.9"/>
<text x="248.88" y="240" font-size="9.38" textLength="15.98" lengthAdjust="spacingAndGlyphs" fill="#231f20" stroke="#231f20" stroke-width="0.22">0.06</text>
<line x1="265.3" y1="308.6" x2="268.5" y2="308.6" stroke="#555" stroke-width="0.9"/>
<text x="253.05" y="309.4" font-size="9.38" textLength="12.29" lengthAdjust="spacingAndGlyphs" fill="#231f20" stroke="#231f20" stroke-width="0.22">0.0</text>
<line x1="497.5" y1="234.9" x2="500.5" y2="234.9" stroke="#555" stroke-width="0.9"/>
<text x="503.29" y="237.9" font-size="9.38" textLength="11.15" lengthAdjust="spacingAndGlyphs" fill="#231f20" stroke="#231f20" stroke-width="0.22">0.4</text>
<line x1="497.5" y1="308.6" x2="500.5" y2="308.6" stroke="#555" stroke-width="0.9"/>
<text x="503.28" y="309.6" font-size="9.38" textLength="11.23" lengthAdjust="spacingAndGlyphs" fill="#231f20" stroke="#231f20" stroke-width="0.22">0.0</text>
<text transform="translate(257.3 267.6) rotate(-90)" x="-14.92" y="3" font-size="8.28" textLength="29.13" lengthAdjust="spacingAndGlyphs" fill="#231f20" stroke="#231f20" stroke-width="0.22">Density</text>
<text transform="translate(509.5 265) rotate(90)" x="-14.81" y="3" font-size="8.28" textLength="28.93" lengthAdjust="spacingAndGlyphs" fill="#231f20" stroke="#231f20" stroke-width="0.22">Density</text>
<text x="276.62" y="236.5" font-size="8.56" textLength="26.14" lengthAdjust="spacingAndGlyphs" fill="#111" font-weight="bold" stroke="#111" stroke-width="0.3">Plants</text>
<path d="M277.3,74.7 C280,72.6 283,70.5 283.8,69.4 C286,67.5 288,65.5 289.6,63.5 C292,60.8 294,59 295.5,57.6 C297.3,55.6 298.4,54.3 299.1,52.9 C299.8,51.3 300.2,50 300.8,48.8 C301.6,47.3 302.3,46.4 303.2,45.9 C304.2,45.2 305.2,44.9 306.1,44.9 C307.5,44.9 308.6,45 309.6,45.3 C310.6,45.8 311.4,46.4 312,47.1 L316.8,48.5 L312.6,49.6 C311.8,49.9 311.2,50.2 310.8,50.6 C310.2,52 309.8,53.6 309.6,55.3 C309.4,57 309.3,58.5 309.1,60 C308.6,61.8 308,63.4 307.3,64.7 C306.3,66 305.2,67 303.8,67.6 C302.5,68.4 301,68.9 299.6,69.2 C297.9,69.6 296.1,69.8 294.4,70 C291.6,70.6 288.8,71.4 286.1,72.4 C283.6,73.3 281.3,74.2 279.1,75.1 Z" fill="#9a90ad" stroke="#6a6078" stroke-width="0.5"/>
<path d="M299.1,52.9 C301.5,52.6 305,52.4 308.5,52.8 C308.6,56 307.8,59.5 305.8,62.2 C302.5,65.3 297.5,67 292,68.6 C288.5,69.8 285,71.2 281.5,72.8 C284,70.2 287,67.2 289.6,63.5 C292,60.8 294,59 295.5,57.6 C297.3,55.6 298.4,54.3 299.1,52.9 Z" fill="#d3cce2" stroke="none" stroke-width="1"/>
<path d="M300.8,48.8 C301.6,47.3 302.3,46.4 303.2,45.9 C304.2,45.2 305.2,44.9 306.1,44.9 C307.5,44.9 308.6,45 309.6,45.3 C310.6,45.8 311.4,46.4 312,47.1 L312.6,49.6 C311.8,49.9 311.2,50.2 310.8,50.6 C308.5,51.8 305.5,52.4 302.5,52.6 C301.5,52.2 300.9,50.5 300.8,48.8 Z" fill="#b5a9ac" stroke="none" stroke-width="1"/>
<path d="M277.6,74.5 C280,72.6 283,70.5 283.8,69.4 C286,67.5 288,65.5 289.6,63.5 C292,60.8 294,59 295.5,57.6 C297.3,55.6 298.4,54.3 299.1,52.9 C299.8,51.3 300.2,50 300.8,48.8" fill="none" stroke="#3a3142" stroke-width="0.9"/>
<path d="M303.2,56.3 C302.6,59.5 301,62 298.2,64.2" fill="none" stroke="#2a2238" stroke-width="1.4"/>
<path d="M296,66.2 C291.5,68.3 286,70.8 280.2,73.8" fill="none" stroke="#4a405a" stroke-width="0.9"/>
<path d="M311.6,46.8 L316.8,48.5 L312.4,49.7 Z" fill="#3e2e26" stroke="none" stroke-width="1"/>
<circle cx="309.3" cy="47.3" r="0.55" fill="#222"/>
<path d="M294.9,69.6 L296.1,73.5 M296.1,73.5 L294.2,75.6 M296.1,73.5 L300.2,77.4 M296.1,73.5 L302.5,74.6 L306.2,75.2 M302.5,74.6 L303.8,77" fill="none" stroke="#8a6a5c" stroke-width="0.9"/>
<path d="M296,151.3 C292.8,148.6 285.8,145.2 278.5,142.9" fill="none" stroke="#1a1a1a" stroke-width="1.15"/>
<path d="M300.4,151.3 C303.6,148.6 310.6,145.2 317.8,142.9" fill="none" stroke="#1a1a1a" stroke-width="1.15"/>
<path d="M296,153.2 C292.5,152.2 290,152.6 288.5,153.3 C287,154.2 285.5,154.9 284.2,154.9 L278.5,154.9" fill="none" stroke="#808080" stroke-width="0.85"/>
<path d="M300.4,153.2 C303.9,152.2 306.4,152.6 307.9,153.3 C309.4,154.2 310.9,154.9 312.2,154.9 L317.8,154.9" fill="none" stroke="#808080" stroke-width="0.85"/>
<path d="M296.5,154.2 L286.4,162.2" fill="none" stroke="#1a1a1a" stroke-width="1.2"/>
<path d="M300,154.2 L309.5,162.2" fill="none" stroke="#1a1a1a" stroke-width="1.2"/>
<path d="M296.9,156 C295,161 292.8,167 290.6,173.5" fill="none" stroke="#1a1a1a" stroke-width="1.1"/>
<path d="M299.5,156 C301.3,161 303.3,167 305.4,173.5" fill="none" stroke="#1a1a1a" stroke-width="1.1"/>
<line x1="298.2" y1="144.8" x2="298.2" y2="149" stroke="#1a1a1a" stroke-width="1"/>
<ellipse cx="298.2" cy="147.2" rx="1.3" ry="1.5" fill="#1a1a1a"/>
<ellipse cx="298.2" cy="152.5" rx="2.5" ry="3.0" fill="#1a1a1a"/>
<ellipse cx="298.4" cy="161.6" rx="1.9" ry="5.9" fill="#1a1a1a"/>
<path d="M298.4,157.5 L298.4,165" fill="none" stroke="#555" stroke-width="0.6"/>
<path d="M294.6,265 L292.6,279.2" fill="none" stroke="#2a2a2a" stroke-width="1.1"/>
<path d="M302.9,241.4 C305.5,245 306.8,251 306.3,257 C306,262 303,265.5 299,265.9 C294.5,266.2 290.5,263.5 289.8,259 C289.2,254.5 292,250 295.5,247 C298.5,244.5 301.5,243.5 302.9,241.4 Z" fill="#245f2e" stroke="#0c2611" stroke-width="1.1"/>
<path d="M296.2,259.5 C293.8,257 294.5,252.5 298.5,251.5 C302,250.8 303.6,254 302,256.4 C300.6,258.3 298,258 297.8,256" fill="none" stroke="#3f8a48" stroke-width="1.5"/>
<path d="M300.5,262.5 C303.5,260 304.8,256 304.3,252" fill="none" stroke="#3a7f42" stroke-width="0.9"/>
<text x="414.08" y="12.9" font-size="8.56" textLength="91.44" lengthAdjust="spacingAndGlyphs" fill="#231f20" stroke="#231f20" stroke-width="0.22">Population divergences</text>
<line x1="474.4" y1="16.3" x2="484.6" y2="24" stroke="#231f20" stroke-width="1.25"/>
<path d="M479.03,24.58 L484.6,24 L483.63,18.48" fill="none" stroke="#231f20" stroke-width="1.25" stroke-linejoin="miter" stroke-linecap="butt"/>
<text x="348.41" y="40.1" font-size="8.42" textLength="75.41" lengthAdjust="spacingAndGlyphs" fill="#231f20" stroke="#231f20" stroke-width="0.22">Speciation intervals</text>
<line x1="404.1" y1="46.2" x2="414.7" y2="54" stroke="#231f20" stroke-width="1.25"/>
<path d="M408.96,54.84 L414.7,54 L413.8,48.27" fill="none" stroke="#231f20" stroke-width="1.25" stroke-linejoin="miter" stroke-linecap="butt"/>
<line x1="276.7" y1="308.6" x2="276.7" y2="311.8" stroke="#555" stroke-width="0.9"/>
<text x="273.41" y="320.3" font-size="9.17" textLength="9.68" lengthAdjust="spacingAndGlyphs" fill="#231f20" stroke="#231f20" stroke-width="0.22">20</text>
<line x1="329.85" y1="308.6" x2="329.85" y2="311.8" stroke="#555" stroke-width="0.9"/>
<text x="326.17" y="320.3" font-size="9.3" textLength="9.17" lengthAdjust="spacingAndGlyphs" fill="#231f20" stroke="#231f20" stroke-width="0.22">15</text>
<line x1="383" y1="308.6" x2="383" y2="311.8" stroke="#555" stroke-width="0.9"/>
<text x="379.47" y="320.3" font-size="9.17" textLength="9.93" lengthAdjust="spacingAndGlyphs" fill="#231f20" stroke="#231f20" stroke-width="0.22">10</text>
<line x1="436.15" y1="308.6" x2="436.15" y2="311.8" stroke="#555" stroke-width="0.9"/>
<text x="434.05" y="320.3" font-size="9.3" textLength="5.51" lengthAdjust="spacingAndGlyphs" fill="#231f20" stroke="#231f20" stroke-width="0.22">5</text>
<line x1="489.3" y1="308.6" x2="489.3" y2="311.8" stroke="#555" stroke-width="0.9"/>
<text x="487.81" y="320.3" font-size="9.17" textLength="5.58" lengthAdjust="spacingAndGlyphs" fill="#231f20" stroke="#231f20" stroke-width="0.22">0</text>
<text x="371.91" y="331.9" font-size="9.25" textLength="38.41" lengthAdjust="spacingAndGlyphs" fill="#231f20" stroke="#231f20" stroke-width="0.22">Time (Ma)</text>
</svg>
</body></html>
